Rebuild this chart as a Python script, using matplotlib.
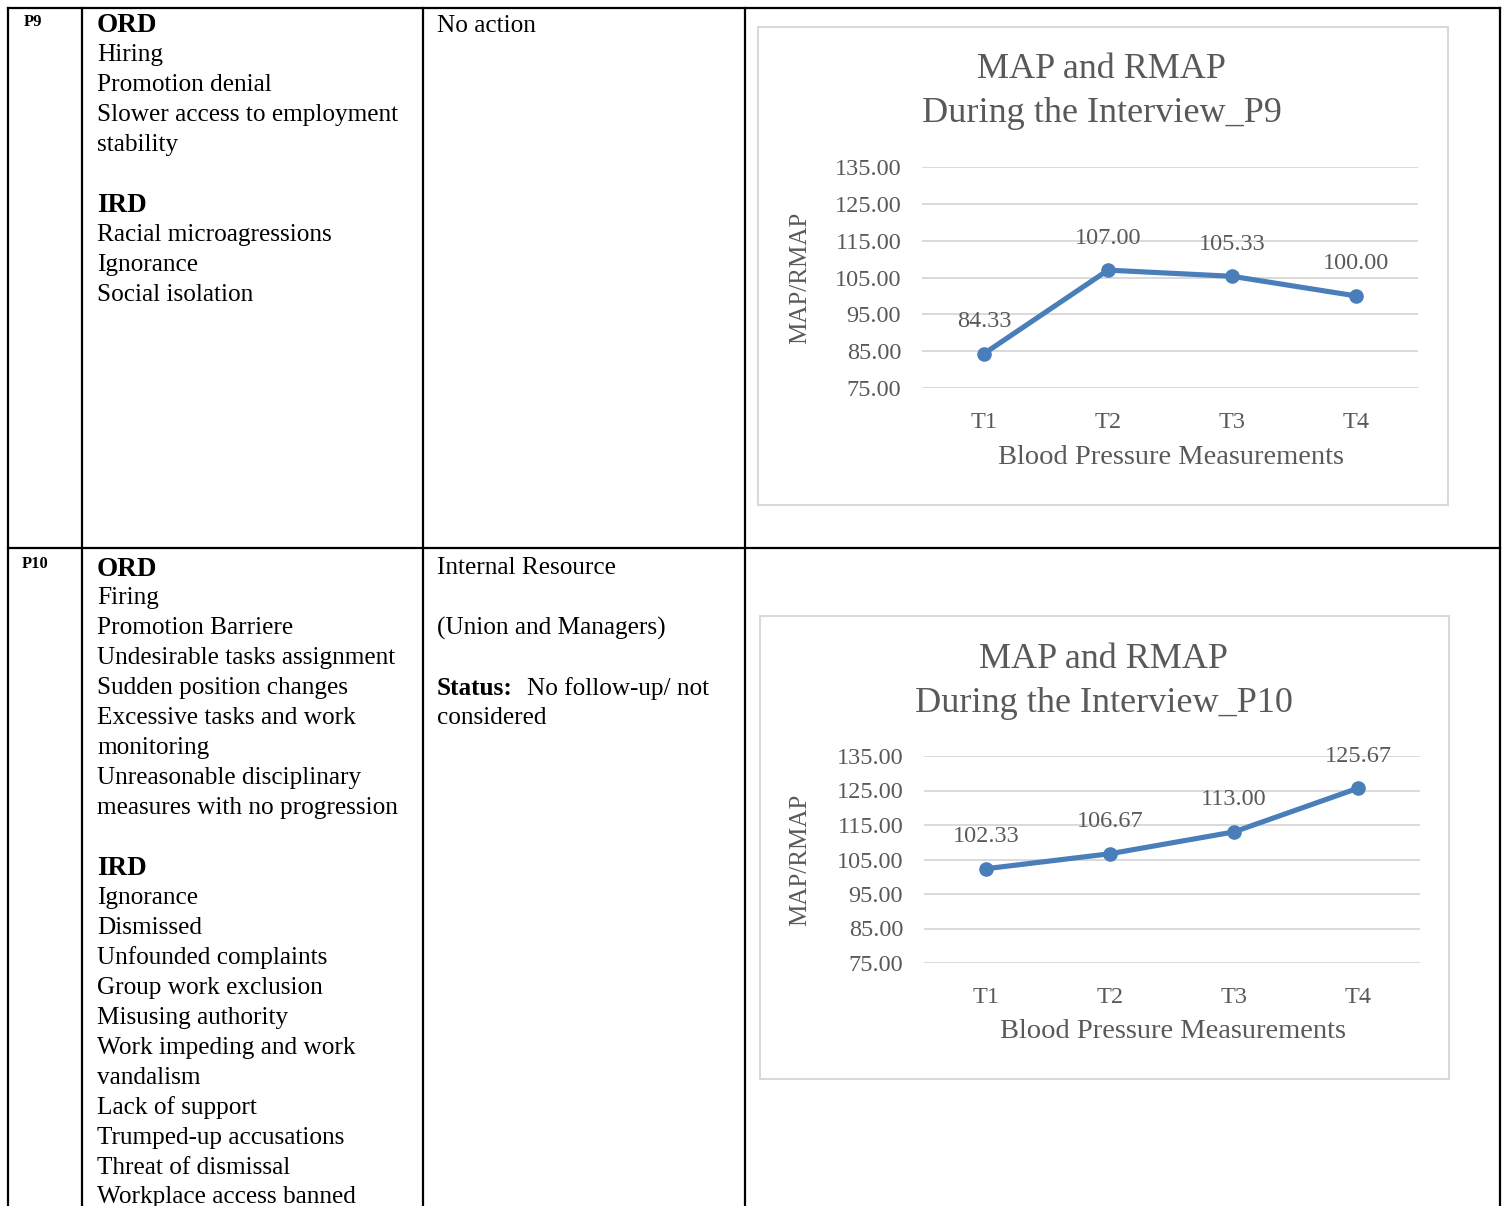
import matplotlib
matplotlib.use("Agg")
import matplotlib.pyplot as plt
from matplotlib.patches import Rectangle

plt.rcParams["font.family"] = ["Liberation Serif", "DejaVu Serif"]

# ---- data ----
timepoints = ["T1", "T2", "T3", "T4"]
map_p9 = [84.33, 107.00, 105.33, 100.00]
map_p10 = [102.33, 106.67, 113.00, 125.67]
y_ticks = [75, 85, 95, 105, 115, 125, 135]

p9_lines = [("ORD", True), ("Hiring", False), ("Promotion denial", False),
            ("Slower access to employment", False), ("stability", False),
            ("", False), ("IRD", True), ("Racial microagressions", False),
            ("Ignorance", False), ("Social isolation", False)]
p10_lines = [("ORD", True), ("Firing", False), ("Promotion Barriere", False),
             ("Undesirable tasks assignment", False), ("Sudden position changes", False),
             ("Excessive tasks and work", False), ("monitoring", False),
             ("Unreasonable disciplinary", False), ("measures with no progression", False),
             ("", False), ("IRD", True), ("Ignorance", False), ("Dismissed", False),
             ("Unfounded complaints", False), ("Group work exclusion", False),
             ("Misusing authority", False), ("Work impeding and work", False),
             ("vandalism", False), ("Lack of support", False),
             ("Trumped-up accusations", False), ("Threat of dismissal", False),
             ("Workplace access banned", False)]

W, H = 1506, 1206
fig = plt.figure(figsize=(W / 100, H / 100), dpi=100)
bg = fig.add_axes([0, 0, 1, 1])
bg.set_xlim(0, W)
bg.set_ylim(H, 0)
bg.axis("off")

# ---- table grid ----
lw = 1.6
bg.plot([8, 1500], [8, 8], color="black", lw=lw)
bg.plot([8, 1500], [548, 548], color="black", lw=lw)
for x in [8, 82, 423, 745, 1500]:
    bg.plot([x, x], [8, H + 5], color="black", lw=lw)

text_kw = dict(color="black", va="center_baseline", ha="left")
bg.text(24, 20, "P9", fontsize=12, fontweight="bold", **text_kw)
bg.text(22, 562, "P10", fontsize=12, fontweight="bold", **text_kw)

BODY = 18.2


def draw_lines(lines, x, y0, step=29.95):
    for i, (s, bold) in enumerate(lines):
        if not s:
            continue
        bg.text(x, y0 + i * step, s, fontsize=19.5 if bold else BODY,
                fontweight="bold" if bold else "normal", **text_kw)


draw_lines(p9_lines, 97, 23)
draw_lines(p10_lines, 97, 566)

bg.text(437, 24, "No action", fontsize=BODY, **text_kw)
bg.text(437, 566, "Internal Resource", fontsize=BODY, **text_kw)
bg.text(437, 626, "(Union and Managers)", fontsize=BODY, **text_kw)
bg.text(437, 686, "Status:", fontsize=BODY, fontweight="bold", **text_kw)
bg.text(527, 686, "No follow-up/ not", fontsize=BODY, **text_kw)
bg.text(437, 716, "considered", fontsize=BODY, **text_kw)

# ---- embedded charts ----
GRAY = "#595959"
BLUE = "#4A7EBB"


def px_axes(left, right, top, bottom):
    return fig.add_axes([left / W, 1 - bottom / H, (right - left) / W, (bottom - top) / H])


def chart(box, area, values, title, title_y, ylab_x, xlab_y):
    bx0, by0, bx1, by1 = box
    bg.add_patch(Rectangle((bx0, by0), bx1 - bx0, by1 - by0, fill=False,
                           edgecolor="#D9D9D9", lw=1.5))
    left, right, top, bottom = area
    ax = px_axes(left, right, top, bottom)
    ax.set_facecolor("none")
    x = range(len(timepoints))
    ax.plot(x, values, color=BLUE, lw=3.7, marker="o", markersize=9.5,
            solid_capstyle="round", zorder=3, clip_on=False)
    for i, v in enumerate(values):
        ax.annotate(f"{v:.2f}", (i, v), xytext=(0, 23), textcoords="offset points",
                    ha="center", va="center", fontsize=17.5, color=GRAY)
    ax.set_xlim(-0.5, 3.5)
    ax.set_ylim(75, 135)
    ax.set_yticks(y_ticks)
    ax.set_yticklabels([f"{t:.2f}" for t in y_ticks])
    ax.set_xticks(list(x))
    ax.set_xticklabels(timepoints)
    ax.tick_params(length=0, labelsize=17.5, labelcolor=GRAY)
    ax.tick_params(axis="y", pad=15)
    ax.tick_params(axis="x", pad=17)
    ax.grid(axis="y", color="#D9D9D9", lw=1.4)
    ax.set_axisbelow(True)
    for sp in ax.spines.values():
        sp.set_visible(False)
    ax.set_ylabel("MAP/RMAP", fontsize=18, color=GRAY, va="center")
    ax.yaxis.set_label_coords((ylab_x - left) / (right - left),
                              (bottom - (top + bottom) / 2) / (bottom - top))
    ax.set_xlabel("Blood Pressure Measurements", fontsize=20.5, color=GRAY, va="center")
    ax.xaxis.set_label_coords(((left + right) / 2 + 1 - left) / (right - left),
                              (bottom - xlab_y) / (bottom - top))
    cx = (bx0 + bx1) / 2 - 1
    for j, line in enumerate(title.split("\n")):
        bg.text(cx, title_y + j * 44, line, fontsize=26, color=GRAY,
                ha="center", va="center")
    return ax


chart((758, 27, 1448, 505), (922, 1418, 167, 388), map_p9,
      "MAP and RMAP\nDuring the Interview_P9", 70, 800, 457)
chart((760, 616, 1449, 1079), (924, 1420, 756, 963), map_p10,
      "MAP and RMAP\nDuring the Interview_P10", 659, 800, 1032)

fig.savefig("out.png", dpi=100, facecolor="white")
